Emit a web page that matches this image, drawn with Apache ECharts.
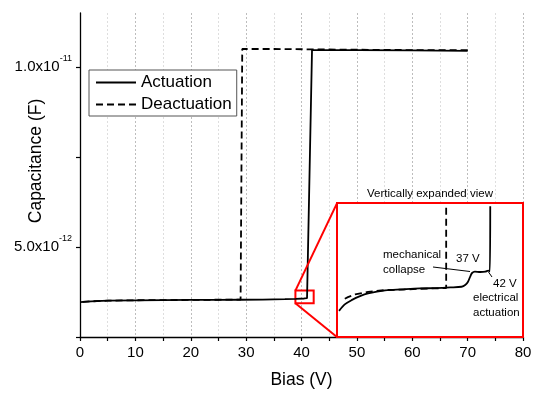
<!DOCTYPE html>
<html>
<head>
<meta charset="utf-8">
<script src="https://cdn.jsdelivr.net/npm/echarts@6/dist/echarts.min.js"></script>
<style>
html,body{margin:0;padding:0;background:#fff;}
#chart{width:550px;height:396px;}
</style>
</head>
<body>
<div id="chart"></div>
<script>
// ---------- DATA (capacitance in pF = 1e-12 F) ----------
var actuationV = [0, 2, 5, 10, 15, 20, 25, 29, 33, 37, 39, 40.5, 41.0, 41.9, 50, 60, 70];
var actuationC = [3.47, 3.49, 3.51, 3.52, 3.525, 3.53, 3.53, 3.535, 3.54, 3.55, 3.56, 3.57, 3.58, 10.47, 10.47, 10.46, 10.45];

var deactuationV = [70, 60, 50, 42, 35, 29.3, 29.0, 25, 20, 15, 10, 5, 2, 0];
var deactuationC = [10.47, 10.47, 10.48, 10.49, 10.5, 10.5, 3.54, 3.535, 3.53, 3.525, 3.52, 3.51, 3.49, 3.47];

// vertically expanded inset view
var insetActV = [4.5, 6.0, 7.6, 9.7, 11.7, 15.9, 20.0, 24.5, 28.2, 32.0, 34.8, 35.7, 36.4, 37.0, 37.4, 38.1, 39.4, 40.7, 41.4, 41.8, 41.9];
var insetActC = [3.478, 3.498, 3.510, 3.522, 3.530, 3.539, 3.542, 3.545, 3.546, 3.548, 3.550, 3.555, 3.565, 3.582, 3.591, 3.595, 3.594, 3.595, 3.598, 3.596, 3.79];
var insetDeV = [31.0, 31.0, 24.5, 20.0, 15.9, 11.7, 8.5, 6.7, 5.2];
var insetDeC = [3.786, 3.546, 3.544, 3.5415, 3.540, 3.535, 3.527, 3.519, 3.510];

// zoom box in main chart [x0, y0, x1, y1] and inset corners (main-chart coords)
var zoomBox = [38.9, 3.44, 42.2, 3.79];
var insetCornerTop = [46.4, 6.21];
var insetCornerBottom = [46.4, 2.5];

var xTicks = {min: 0, max: 80, interval: 10};
var yTickValues = [2.5, 5, 7.5, 10];
var yLabelValues = [5, 10];
var yLabelText = {5: ['5.0x10', '-12'], 10: ['1.0x10', '-11']};

var seriesNames = ['Actuation', 'Deactuation'];

function pairs(xs, ys) { return xs.map(function (x, i) { return [x, ys[i]]; }); }

var FONT = '"Liberation Sans", Arial, sans-serif';
var RED = '#ff0000';
var DASH = [7, 4];

var chart = echarts.init(document.getElementById('chart'), null, {renderer: 'canvas'});

var option = {
  backgroundColor: '#fff',
  animation: false,
  textStyle: {fontFamily: FONT},
  grid: [
    {left: 80, right: 27, top: 13, bottom: 59, show: false, containLabel: false, outerBoundsMode: 'none'},
    {left: 337, right: 27, top: 203, bottom: 59, show: true, z: 3, containLabel: false, outerBoundsMode: 'none',
     backgroundColor: '#fff', borderColor: RED, borderWidth: 2}
  ],
  legend: {
    data: seriesNames,
    orient: 'vertical',
    left: 89, top: 70,
    padding: [4, 5, 3, 6],
    itemGap: 5,
    itemWidth: 40, itemHeight: 14,
    backgroundColor: '#fff',
    borderColor: '#555', borderWidth: 1,
    itemStyle: {opacity: 0},
    textStyle: {fontFamily: FONT, fontSize: 17, color: '#000'},
    z: 6
  },
  xAxis: [
    {
      gridIndex: 0, type: 'value',
      min: xTicks.min, max: xTicks.max, interval: xTicks.interval,
      name: 'Bias (V)', nameLocation: 'middle', nameGap: 34, nameMoveOverlap: false,
      nameTextStyle: {fontFamily: FONT, fontSize: 17.5, color: '#000'},
      axisLine: {show: true, onZero: false, lineStyle: {color: '#000', width: 1.3}},
      axisTick: {show: true, length: 4, lineStyle: {color: '#000', width: 1.2}},
      minorTick: {show: true, splitNumber: 2, length: 4, lineStyle: {color: '#000', width: 1.2}},
      axisLabel: {fontFamily: FONT, fontSize: 15, color: '#000', margin: 8},
      splitLine: {show: true, lineStyle: {color: '#bdbdbd', type: [2, 2], width: 1}},
      minorSplitLine: {show: true, lineStyle: {color: '#dedede', type: [2, 2], width: 1}}
    },
    {
      gridIndex: 1, type: 'value', min: 4, max: 50,
      show: false
    }
  ],
  yAxis: [
    {
      gridIndex: 0, type: 'value',
      min: 2.5, max: 11.5, interval: 2.5,
      name: 'Capacitance (F)', nameLocation: 'middle', nameGap: 35, nameMoveOverlap: false,
      nameTextStyle: {fontFamily: FONT, fontSize: 17.5, color: '#000', padding: [0, 0, 0, 28]},
      axisLine: {show: true, onZero: false, lineStyle: {color: '#000', width: 1.3}},
      axisTick: {show: true, length: 4, customValues: yTickValues, lineStyle: {color: '#000', width: 1.2}},
      axisLabel: {
        customValues: yLabelValues,
        margin: 8,
        formatter: function (v) {
          var t = yLabelText[v];
          if (!t) return '';
          return '{m|' + t[0] + '}{s|' + t[1] + '}';
        },
        rich: {
          m: {fontFamily: FONT, fontSize: 15, color: '#000', padding: [5, 0, 5, 0]},
          s: {fontFamily: FONT, fontSize: 9, color: '#000', verticalAlign: 'top'}
        }
      },
      splitLine: {show: false}
    },
    {
      gridIndex: 1, type: 'value', min: 3.40, max: 3.80,
      show: false
    }
  ],
  series: [
    {
      name: seriesNames[0], type: 'line', xAxisIndex: 0, yAxisIndex: 0,
      data: pairs(actuationV, actuationC),
      symbol: 'none', smooth: false, z: 2,
      lineStyle: {color: '#000', width: 1.8},
      itemStyle: {color: '#000'}
    },
    {
      name: seriesNames[1], type: 'line', xAxisIndex: 0, yAxisIndex: 0,
      data: pairs(deactuationV, deactuationC),
      symbol: 'none', smooth: false, z: 2,
      lineStyle: {color: '#000', width: 1.8, type: DASH},
      itemStyle: {color: '#000'}
    },
    {
      name: 'zoom', type: 'line', xAxisIndex: 0, yAxisIndex: 0,
      data: [], symbol: 'none', z: 5, silent: true,
      markArea: {
        silent: true,
        itemStyle: {color: 'rgba(0,0,0,0)', borderColor: RED, borderWidth: 2},
        data: [[{coord: [zoomBox[0], zoomBox[3]]}, {coord: [zoomBox[2], zoomBox[1]]}]]
      },
      markLine: {
        silent: true, symbol: ['none', 'none'],
        label: {show: false},
        lineStyle: {color: RED, width: 2, type: 'solid'},
        data: [
          [{coord: [zoomBox[0], zoomBox[3]]}, {coord: insetCornerTop}],
          [{coord: [zoomBox[0], zoomBox[1]]}, {coord: insetCornerBottom}]
        ]
      }
    },
    {
      name: 'insetAct', type: 'line', xAxisIndex: 1, yAxisIndex: 1,
      data: pairs(insetActV, insetActC),
      symbol: 'none', smooth: 0.3, z: 8,
      lineStyle: {color: '#000', width: 1.8}
    },
    {
      name: 'insetDe', type: 'line', xAxisIndex: 1, yAxisIndex: 1,
      data: pairs(insetDeV, insetDeC),
      symbol: 'none', smooth: false, z: 8,
      lineStyle: {color: '#000', width: 1.8, type: DASH}
    }
  ],
  graphic: [
    {type: 'text', left: 367, top: 188, z: 10,
     style: {text: 'Vertically expanded view', font: '11.5px ' + FONT, fill: '#000'}},
    {type: 'text', left: 383, top: 248, z: 10,
     style: {text: 'mechanical\ncollapse', font: '11.5px ' + FONT, fill: '#000', lineHeight: 14.3}},
    {type: 'text', left: 456, top: 253, z: 10,
     style: {text: '37 V', font: '11.5px ' + FONT, fill: '#000'}},
    {type: 'text', left: 493, top: 278, z: 10,
     style: {text: '42 V', font: '11.5px ' + FONT, fill: '#000'}},
    {type: 'text', left: 473, top: 291, z: 10,
     style: {text: 'electrical\nactuation', font: '11.5px ' + FONT, fill: '#000', lineHeight: 14.4}},
    {type: 'line', z: 10, shape: {x1: 433, y1: 267, x2: 470, y2: 271.5},
     style: {stroke: '#000', lineWidth: 1}},
    {type: 'line', z: 10, shape: {x1: 488.5, y1: 272, x2: 492, y2: 277},
     style: {stroke: '#000', lineWidth: 1}}
  ]
};
chart.setOption(option);
</script>
</body>
</html>
